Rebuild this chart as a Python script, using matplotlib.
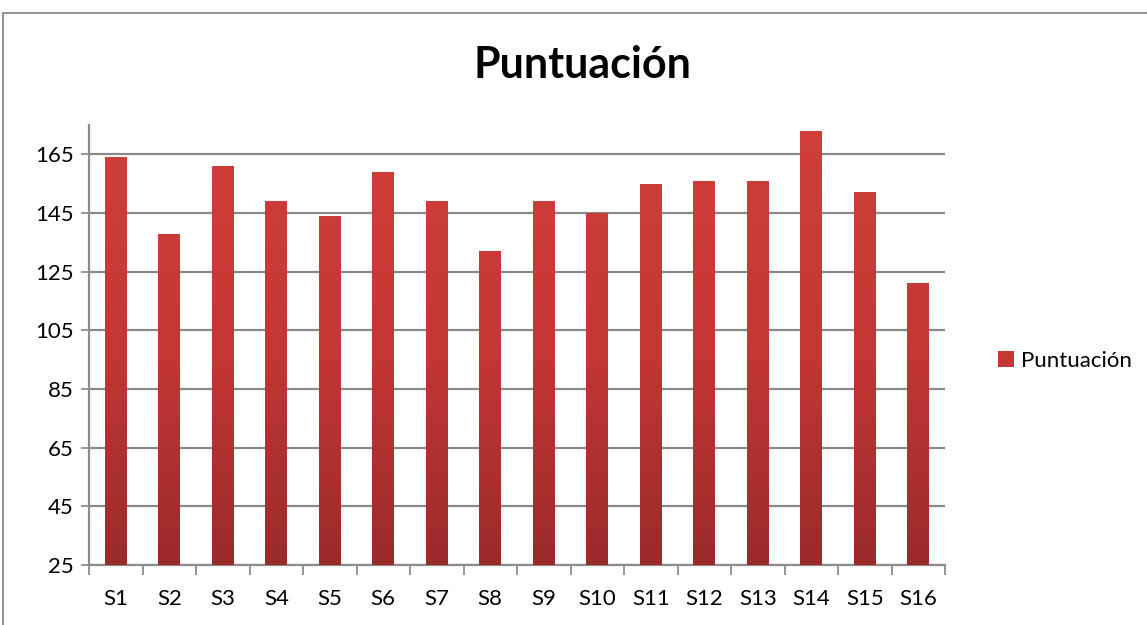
import matplotlib
matplotlib.use("Agg")
import matplotlib.pyplot as plt
import numpy as np
from matplotlib.patches import Rectangle
from matplotlib.colors import LinearSegmentedColormap

categories = ["S1", "S2", "S3", "S4", "S5", "S6", "S7", "S8", "S9", "S10",
              "S11", "S12", "S13", "S14", "S15", "S16"]
values = [164, 138, 161, 149, 144, 159, 149, 132, 149, 145, 155, 156, 156, 173, 152, 121]
series_name = "Puntuación"
title = "Puntuación"
yticks = [25, 45, 65, 85, 105, 125, 145, 165]

plt.rcParams['font.family'] = ['Lato', 'DejaVu Sans']

fig = plt.figure(figsize=(11.47, 6.25), dpi=100)
ax = fig.add_axes([89/1147, 60/625, (945-89)/1147, (565-125)/625])

x = np.arange(len(categories))
ymin, ymax = 25, 175
bars = ax.bar(x, [v - ymin for v in values], width=0.41, bottom=ymin,
              color="#C23634", zorder=3, label=series_name)

cmap = LinearSegmentedColormap.from_list("g", ["#9B2A2B", "#C53735", "#D03F3B"])
grad = np.linspace(0, 1, 256).reshape(-1, 1)
for b in bars:
    bx, by = b.get_x(), b.get_y()
    w, h = b.get_width(), b.get_height()
    im = ax.imshow(grad, cmap=cmap, origin="lower", aspect="auto",
                   extent=[bx, bx + w, ymin, ymax], zorder=4)
    im.set_clip_path(b)

ax.set_xlim(-0.5, len(categories) - 0.5)
ax.set_ylim(ymin, ymax)
ax.set_yticks(yticks)
ax.set_yticklabels([str(t) for t in yticks], fontsize=16)
ax.set_xticks(x)
ax.set_xticklabels(categories, fontsize=16)
ax.set_xticks(np.arange(-0.5, len(categories), 1), minor=True)
ax.tick_params(axis="x", which="major", length=0, pad=17)
ax.tick_params(axis="x", which="minor", length=7, color="#8c8c8c", width=1.3, direction="out")
ax.tick_params(axis="y", length=6, color="#8c8c8c", width=1.3, pad=5)
ax.grid(axis="y", color="#8a8a8a", linewidth=1.6, zorder=1)
for s in ["top", "right"]:
    ax.spines[s].set_visible(False)
for s in ["left", "bottom"]:
    ax.spines[s].set_color("#8c8c8c")
    ax.spines[s].set_linewidth(1.6)

fig.text(582/1147, 1 - 65/625, title, ha="center", va="center",
         fontsize=31, fontweight="bold")

handle = Rectangle((0, 0), 1, 1, facecolor="#C53735")
fig.legend([handle], [series_name], loc="center left",
           bbox_to_anchor=(978/1147, 1 - 361/625), frameon=False,
           fontsize=16, handlelength=0.7, handleheight=0.7, handletextpad=0.35)

fig.patches.append(Rectangle((3/1147, -0.1), 1.2, 1 - 13/625 + 0.1,
                             transform=fig.transFigure, fill=False,
                             edgecolor="#8a8a8a", linewidth=1.3))

fig.savefig("out.png", dpi=100)
